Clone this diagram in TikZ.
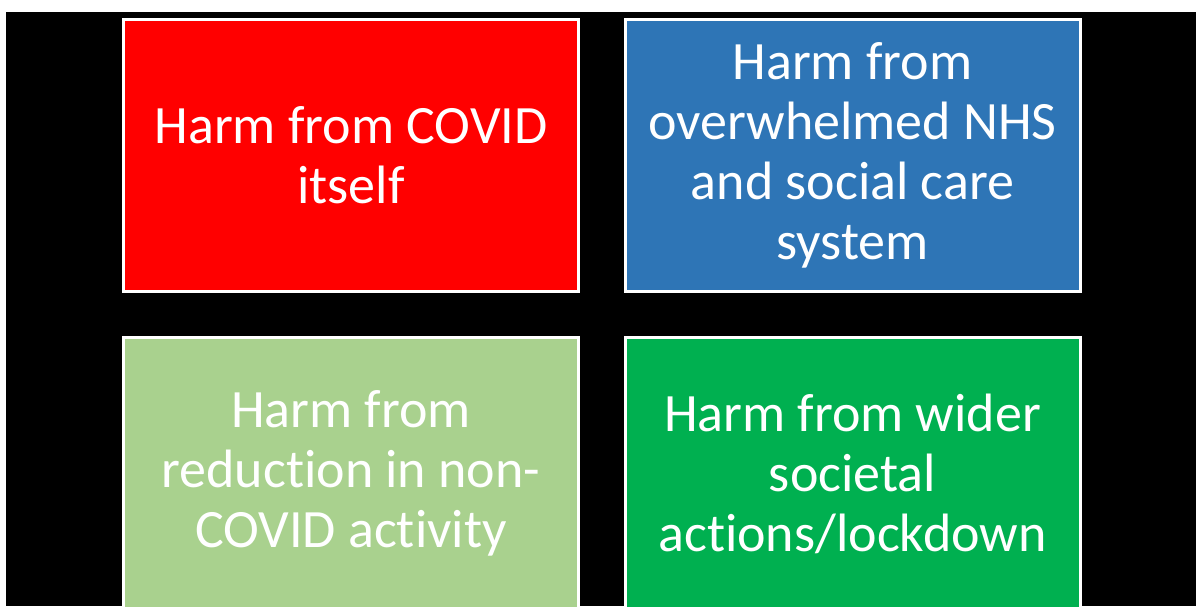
\documentclass[tikz,border=0pt]{standalone}
\usepackage{fontspec}
\setmainfont[Ligatures={NoCommon}]{Carlito}
\definecolor{boxred}{HTML}{FF0000}
\definecolor{boxblue}{HTML}{2E75B6}
\definecolor{boxlgreen}{HTML}{A9D18E}
\definecolor{boxgreen}{HTML}{00B050}
\begin{document}
\begin{tikzpicture}[x=1pt,y=-1pt,
  harmbox/.style={draw=white,line width=3pt,minimum width=455pt,minimum height=272pt,
    inner sep=0pt,text=white,align=center,
    font=\fontsize{54}{60}\selectfont},
]
\useasboundingbox (0,0) rectangle (1196,606);
\fill[white] (0,0) rectangle (1196,606);
\fill[black] (6,12) rectangle (1196,606);
\begin{scope}
\clip (6,12) rectangle (1196,606);
\node[harmbox,fill=boxred] (covid) at (351,155.5) {Harm from COVID\\itself};
\node[harmbox,fill=boxblue] (nhs) at (852.5,155.5) {Harm from\\overwhelmed NHS\\and social care\\system};
\node[harmbox,fill=boxlgreen] (noncovid) at (351,473.5) {Harm from\\reduction in non-\\COVID activity};
\node[harmbox,fill=boxgreen] (societal) at (852.5,473.5) {Harm from wider\\societal\\actions/lockdown};
\end{scope}
\end{tikzpicture}
\end{document}
